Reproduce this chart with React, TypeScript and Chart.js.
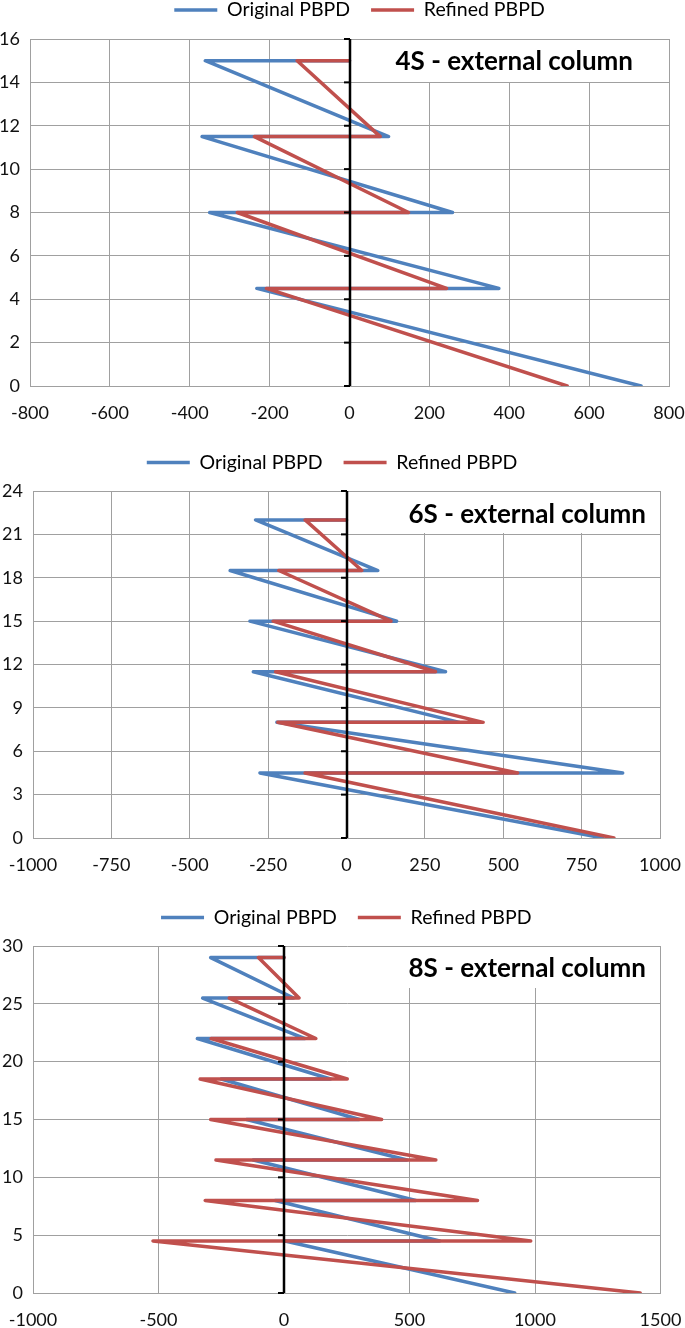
import React, { useEffect, useRef } from "react";
import { Chart, registerables } from "chart.js";

Chart.register(...registerables);

// ---------- data ----------
const seriesNames = ["Original PBPD", "Refined PBPD"];
const chartTitles = ["4S - external column", "6S - external column", "8S - external column"];

// 4-storey
const height4 = [0, 4.5, 4.5, 8, 8, 11.5, 11.5, 15, 15];
const original4 = [730, -232, 374, -350, 258, -369, 98, -361, 0];
const refined4 = [545, -208, 243, -281, 148, -238, 77, -131, 0];
const xTicks4 = [-800, -600, -400, -200, 0, 200, 400, 600, 800];
const yTicks4 = [0, 2, 4, 6, 8, 10, 12, 14, 16];

// 6-storey
const height6 = [0, 4.5, 4.5, 8, 8, 11.5, 11.5, 15, 15, 18.5, 18.5, 22, 22];
const original6 = [818, -276, 881, -222, 360, -297, 316, -308, 160, -371, 100, -290, 0];
const refined6 = [853, -132, 546, -219, 436, -226, 284, -234, 142, -216, 49, -132, 0];
const xTicks6 = [-1000, -750, -500, -250, 0, 250, 500, 750, 1000];
const yTicks6 = [0, 3, 6, 9, 12, 15, 18, 21, 24];

// 8-storey
const height8 = [0, 4.5, 4.5, 8, 8, 11.5, 11.5, 15, 15, 18.5, 18.5, 22, 22, 25.5, 25.5, 29, 29];
const original8 = [919, 4, 620, -35, 525, -122, 490, -149, 300, -250, 185, -345, 84, -324, 38, -292, 0];
const refined8 = [1419, -522, 983, -314, 771, -271, 605, -292, 389, -334, 252, -290, 127, -218, 60, -102, 0];
const xTicks8 = [-1000, -500, 0, 500, 1000, 1500];
const yTicks8 = [0, 5, 10, 15, 20, 25, 30];

// ---------- styling / layout ----------
const BLUE = "#4F81BD";
const RED = "#C0504D";
const GRID = "#a0a0a0";
const FONT = 'Lato, "Open Sans", sans-serif';

type Panel = {
  top: number;
  height: number;
  padR: number;
  padT: number;
  yW: number;
  xH: number;
  spacer: number;
  textRight: number;
  textDy: number;
  boxLeft: number;
  boxBottomDy: number;
  legendShift: number;
};

const panels: Panel[] = [
  { top: 0, height: 430, padR: 16, padT: -20.75, yW: 30, xH: 44, spacer: 9.25, textRight: 633, textDy: 23, boxLeft: 385, boxBottomDy: 43, legendShift: 25 },
  { top: 450, height: 430, padR: 25, padT: -18.25, yW: 33, xH: 42, spacer: 8.75, textRight: 646, textDy: 24, boxLeft: 400, boxBottomDy: 42, legendShift: 2 },
  { top: 900, height: 428, padR: 24.5, padT: -13.25, yW: 33, xH: 35, spacer: 8.75, textRight: 646, textDy: 23, boxLeft: 400, boxBottomDy: 42, legendShift: 16 },
];

const pts = (xs: number[], ys: number[]) => xs.map((x, i) => ({ x, y: ys[i] }));

type ChartSpec = {
  title: string;
  heights: number[];
  original: number[];
  refined: number[];
  xTicks: number[];
  yTicks: number[];
  panel: Panel;
};

const specs: ChartSpec[] = [
  { title: chartTitles[0], heights: height4, original: original4, refined: refined4, xTicks: xTicks4, yTicks: yTicks4, panel: panels[0] },
  { title: chartTitles[1], heights: height6, original: original6, refined: refined6, xTicks: xTicks6, yTicks: yTicks6, panel: panels[1] },
  { title: chartTitles[2], heights: height8, original: original8, refined: refined8, xTicks: xTicks8, yTicks: yTicks8, panel: panels[2] },
];

function ChartPanel({ spec }: { spec: ChartSpec }) {
  const ref = useRef<HTMLCanvasElement | null>(null);

  useEffect(() => {
    if (!ref.current) return;
    const p = spec.panel;

    const titleBox = {
      id: "titleBox",
      beforeDatasetsDraw(chart: any) {
        const { ctx, chartArea } = chart;
        ctx.save();
        ctx.fillStyle = "#ffffff";
        ctx.fillRect(p.boxLeft, chartArea.top + 1, chartArea.right - 1 - p.boxLeft, p.boxBottomDy - 1);
        ctx.fillStyle = "#000000";
        ctx.font = `bold 26px ${FONT}`;
        ctx.textAlign = "right";
        ctx.textBaseline = "middle";
        ctx.fillText(spec.title, p.textRight, chartArea.top + p.textDy);
        ctx.restore();
      },
    };

    const zeroAxis = {
      id: "zeroAxis",
      afterDatasetsDraw(chart: any) {
        const { ctx, chartArea, scales } = chart;
        const x = Math.round(scales.x.getPixelForValue(0));
        ctx.save();
        ctx.strokeStyle = "#000000";
        ctx.lineWidth = 2.5;
        ctx.beginPath();
        ctx.moveTo(x, chartArea.top);
        ctx.lineTo(x, chartArea.bottom);
        ctx.stroke();
        ctx.lineWidth = 2;
        for (const t of scales.y.ticks) {
          const y = scales.y.getPixelForValue(t.value);
          ctx.beginPath();
          ctx.moveTo(x - 6, y);
          ctx.lineTo(x, y);
          ctx.stroke();
        }
        ctx.restore();
      },
    };

    const legendOffset = {
      id: "legendOffset",
      afterLayout(chart: any) {
        if (chart.legend) {
          chart.legend.left += p.legendShift;
          chart.legend.right += p.legendShift;
        }
      },
    };

    const lineStyle = {
      borderWidth: 3.5,
      showLine: true,
      pointRadius: 0,
      tension: 0,
      borderJoinStyle: "round",
      borderCapStyle: "round",
    };

    const chart = new Chart(ref.current, {
      type: "scatter",
      data: {
        datasets: [
          {
            label: seriesNames[0],
            data: pts(spec.original, spec.heights),
            borderColor: BLUE,
            backgroundColor: BLUE,
            ...lineStyle,
            order: 1,
          },
          {
            label: seriesNames[1],
            data: pts(spec.refined, spec.heights),
            borderColor: RED,
            backgroundColor: RED,
            ...lineStyle,
            order: 0,
          },
        ],
      },
      options: {
        responsive: false,
        animation: false,
        layout: { padding: { top: p.padT, left: 0, right: p.padR, bottom: 0 } },
        plugins: {
          tooltip: { enabled: false },
          legend: {
            display: true,
            position: "top",
            labels: {
              usePointStyle: true,
              pointStyle: "line",
              pointStyleWidth: 43,
              padding: 21,
              color: "#000",
              font: { family: FONT, size: 19.5 },
              sort: (a: any, b: any) => a.datasetIndex - b.datasetIndex,
            },
          },
          title: {
            display: true,
            text: "",
            weight: 500,
            font: { size: 1, lineHeight: 1 },
            padding: { top: 0, bottom: p.spacer - 1 },
          },
        },
        scales: {
          x: {
            type: "linear",
            min: spec.xTicks[0],
            max: spec.xTicks[spec.xTicks.length - 1],
            afterBuildTicks: (s: any) => {
              s.ticks = spec.xTicks.map((v) => ({ value: v }));
            },
            afterFit: (s: any) => {
              s.height = p.xH;
              s.paddingLeft = 0;
              s.paddingRight = 0;
            },
            grid: { color: GRID, lineWidth: 1, drawTicks: false },
            border: { display: true, color: GRID, width: 1 },
            ticks: {
              padding: 16,
              color: "#111",
              font: { family: FONT, size: 18 },
              maxRotation: 0,
              autoSkip: false,
              callback: (v: any) => String(v),
            },
          },
          y: {
            type: "linear",
            min: spec.yTicks[0],
            max: spec.yTicks[spec.yTicks.length - 1],
            afterBuildTicks: (s: any) => {
              s.ticks = spec.yTicks.map((v) => ({ value: v }));
            },
            afterFit: (s: any) => {
              s.width = p.yW;
            },
            grid: { color: GRID, lineWidth: 1, drawTicks: false },
            border: { display: true, color: GRID, width: 1 },
            ticks: {
              padding: 10,
              color: "#111",
              font: { family: FONT, size: 18 },
              autoSkip: false,
              callback: (v: any) => String(v),
            },
          },
        },
      },
      plugins: [titleBox, zeroAxis, legendOffset],
    } as any);

    return () => chart.destroy();
  }, [spec]);

  return (
    <div style={{ position: "absolute", left: 0, top: spec.panel.top, width: 685, height: spec.panel.height }}>
      <canvas ref={ref} width={685} height={spec.panel.height} style={{ display: "block" }} />
    </div>
  );
}

export default function App() {
  return (
    <div style={{ position: "absolute", left: 0, top: 0, width: 685, height: 1328, background: "#fff" }}>
      {specs.map((s, i) => (
        <ChartPanel key={i} spec={s} />
      ))}
    </div>
  );
}
